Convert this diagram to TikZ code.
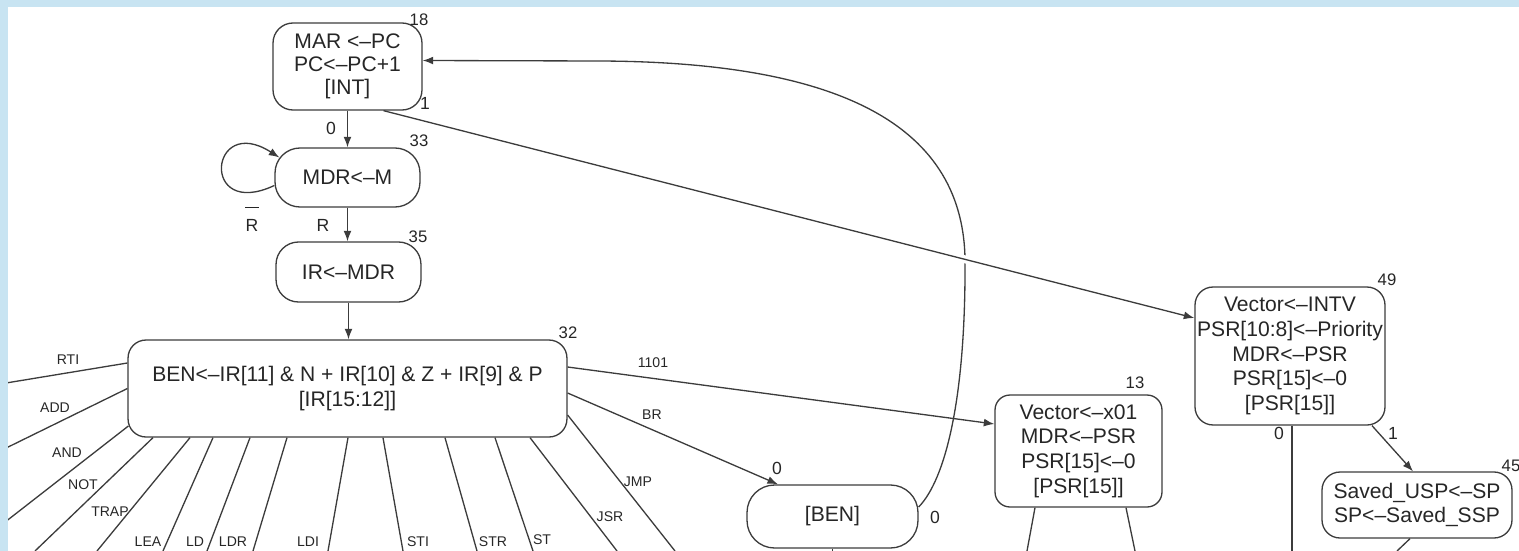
\documentclass[tikz,border=0pt]{standalone}
\usepackage{fontspec}
\setmainfont{Liberation Sans}
\usetikzlibrary{calc}
\usetikzlibrary{arrows.meta}

\definecolor{framebl}{RGB}{200,228,242}
\definecolor{ink}{RGB}{60,60,60}

\tikzset{
  state/.style={draw=ink, line width=0.75pt, rounded corners=0.4cm, align=center,
    inner sep=0pt, text=black!85, font=\fontsize{12}{14}\selectfont},
  numlbl/.style={inner sep=0pt, text=black!85, font=\fontsize{9.5}{10}\selectfont},
  condlbl/.style={inner sep=0pt, align=center, text=black!85, font=\fontsize{10}{11}\selectfont},
  elbl/.style={inner sep=0pt, text=black!85, font=\fontsize{8}{9}\selectfont},
  wire/.style={draw=ink, line width=0.75pt},
  arr/.style={wire, -{Latex[length=6pt,width=4.5pt]}},
}

\begin{document}
\begin{tikzpicture}[x=0.02cm, y=-0.02cm]
\useasboundingbox (0,0) rectangle (1519,551);
\clip (0,0) rectangle (1519,551);

% ===================== FETCH / DECODE STATES =====================
\node[state, minimum width=2.98cm, minimum height=1.74cm,
      font=\fontsize{12}{13}\selectfont] (MAR) at (347.5,66.5)
    {MAR <--PC\\PC<--PC+1\\{[INT]}};
\node[state, minimum width=2.9cm, minimum height=1.18cm, rounded corners=0.5cm] (MDR) at (347.5,177.5)
    {MDR<--M};
\node[state, minimum width=2.9cm, minimum height=1.2cm, rounded corners=0.45cm] (IR) at (348.5,272)
    {IR<--MDR};
\node[state, minimum width=8.78cm, minimum height=1.94cm, rounded corners=0.36cm] (B32) at (347.5,388.5)
    {BEN<--IR[11] \& N + IR[10] \& Z + IR[9] \& P\\{[IR[15:12]]}};

% state numbers
\node[numlbl] (n18) at (419,20) {18};
\node[numlbl] (n33) at (419,141) {33};
\node[numlbl] (n35) at (418,237) {35};
\node[numlbl] (n32) at (568,333) {32};

% ===================== BRANCH / INTERRUPT STATES =====================
\node[state, minimum width=3.42cm, minimum height=1.26cm, rounded corners=0.55cm] (BEN) at (832.5,516.5)
    {[BEN]};
\node[state, minimum width=3.34cm, minimum height=2.24cm, rounded corners=0.3cm] (INT13) at (1078.5,451)
    {Vector<--x01\\MDR<--PSR\\PSR[15]<--0\\{[PSR[15]]}};
\node[state, minimum width=3.8cm, minimum height=2.76cm, rounded corners=0.36cm] (INT49) at (1290,356)
    {Vector<--INTV\\PSR[10:8]<--Priority\\MDR<--PSR\\PSR[15]<--0\\{[PSR[15]]}};
\node[state, minimum width=3.8cm, minimum height=1.32cm, rounded corners=0.36cm] (SSP45) at (1417,505)
    {Saved\_USP<--SP\\SP<--Saved\_SSP};

\node[numlbl] (n13) at (1135,383) {13};
\node[numlbl] (n49) at (1387,280) {49};
\node[numlbl] (n45) at (1511,466) {45};

% ===================== FETCH TRANSITIONS =====================
\draw[arr] (MAR.south) -- (MAR.south |- MDR.north);
\draw[arr] ([yshift=-0.16cm]MDR.west) .. controls +(-75,35) and +(-70,-45) .. ([xshift=0.1cm,yshift=0.4cm]MDR.west);
\draw[arr] (MDR.south) -- (MDR.south |- IR.north);
\draw[arr] (IR.south) -- (IR.south |- B32.north);

\node[condlbl] (c0a) at (331,128) {0};
\node[condlbl] (c1a) at (425,103) {1};
\node[condlbl] (cRn) at (252,219) {\rule{7.5pt}{0.7pt}\\[2pt]R};
\node[condlbl] (cR) at (323,225) {R};

% return from [BEN] to MAR
\draw[arr] ([yshift=0.19cm]BEN.east) .. controls (945,480) and (966,400) .. (965,258)
    .. controls (962,120) and (830,62) .. (600,61) -- ([yshift=0.12cm]MAR.east);

% interrupt: MAR -> 49, with a gap cut in the return curve
\coordinate (intA) at ([xshift=0.72cm]MAR.south);
\coordinate (intB) at ([yshift=0.76cm]INT49.west);
\draw[white, line width=4.5pt] ($(intA)!0.70!(intB)$) -- ($(intA)!0.735!(intB)$);
\draw[arr] (intA) -- (intB);

% ===================== DECODE FAN-OUT =====================
\coordinate (eRTI) at (0,384);
\coordinate (eADD) at (0,451);
\coordinate (eAND) at (0,526);
\coordinate (eNOT) at (35,551);
\coordinate (eTRAP) at (97,551);
\coordinate (eLEA) at (163,551);
\coordinate (eLD) at (207,551);
\coordinate (eLDR) at (253,551);
\coordinate (eLDI) at (328,551);
\coordinate (eSTI) at (403,551);
\coordinate (eSTR) at (477,551);
\coordinate (eST) at (533,551);
\coordinate (eJSR) at (617,551);
\coordinate (eJMP) at (675,551);

\draw[wire] ($(B32.west)+(0,-25.5)$) -- (eRTI);
\draw[wire] (B32.west) -- (eADD);
\draw[wire] ($(B32.west)+(1,37.5)$) -- (eAND);
\draw[wire] ($(B32.south)+(-194.5,0)$) -- (eNOT);
\draw[wire] ($(B32.south)+(-157.5,0)$) -- (eTRAP);
\draw[wire] ($(B32.south)+(-134.5,0)$) -- (eLEA);
\draw[wire] ($(B32.south)+(-97.5,0)$) -- (eLD);
\draw[wire] ($(B32.south)+(-60.5,0)$) -- (eLDR);
\draw[wire] ($(B32.south)+(0.5,0)$) -- (eLDI);
\draw[wire] ($(B32.south)+(35.5,0)$) -- (eSTI);
\draw[wire] ($(B32.south)+(97.5,0)$) -- (eSTR);
\draw[wire] ($(B32.south)+(147.5,0)$) -- (eST);
\draw[wire] ($(B32.south)+(182.5,0)$) -- (eJSR);
\draw[wire] ($(B32.east)+(0,26.5)$) -- (eJMP);
\draw[arr] ($(B32.east)+(0,4.5)$) -- ($(BEN.north)+(-54.5,0)$);
\draw[arr] ($(B32.east)+(0,-21.5)$) -- ($(INT13.west)+(0,-27)$);

% opcode labels
\node[elbl] (lRTI) at (68,360) {RTI};
\node[elbl] (lADD) at (55,408) {ADD};
\node[elbl] (lAND) at (67,453) {AND};
\node[elbl] (lNOT) at (83,485) {NOT};
\node[elbl] (lTRAP) at (110,512) {TRAP};
\node[elbl] (lLEA) at (148,542) {LEA};
\node[elbl] (lLD) at (195,542) {LD};
\node[elbl] (lLDR) at (233,542) {LDR};
\node[elbl] (lLDI) at (308,542) {LDI};
\node[elbl] (lSTI) at (418,542) {STI};
\node[elbl] (lSTR) at (493,542) {STR};
\node[elbl] (lST) at (542,540) {ST};
\node[elbl] (lJSR) at (610,517) {JSR};
\node[elbl] (lJMP) at (638,482) {JMP};
\node[elbl] (lBR) at (652,415) {BR};
\node[elbl] (l1101) at (653,363) {1101};

% ===================== EXITS OF THE RIGHT STATES =====================
\coordinate (eBEN) at (832.5,551);
\coordinate (e13a) at (1027,551);
\coordinate (e13b) at (1135,551);
\coordinate (e49) at (1292,551);
\coordinate (e45) at (1397,551);

\draw[wire] (BEN.south) -- (eBEN);
\draw[wire] ($(INT13.south)+(-43.5,0)$) -- (e13a);
\draw[wire] ($(INT13.south)+(47.5,0)$) -- (e13b);
\draw[wire] ($(INT49.south)+(2,0)$) -- (e49);
\draw[arr] ($(INT49.south)+(82,0)$) -- ($(SSP45.north)+(-4,0)$);
\draw[wire] ($(SSP45.south)+(-7,0)$) -- (e45);

\node[condlbl] (c0b) at (777,468) {0};
\node[condlbl] (c0c) at (935,517) {0};
\node[condlbl] (c0d) at (1279,433) {0};
\node[condlbl] (c1b) at (1393,433) {1};

% ===================== FRAME =====================
\fill[framebl] (0,0) rectangle (1519,7);
\fill[framebl] (0,0) rectangle (8,551);
\end{tikzpicture}
\end{document}
